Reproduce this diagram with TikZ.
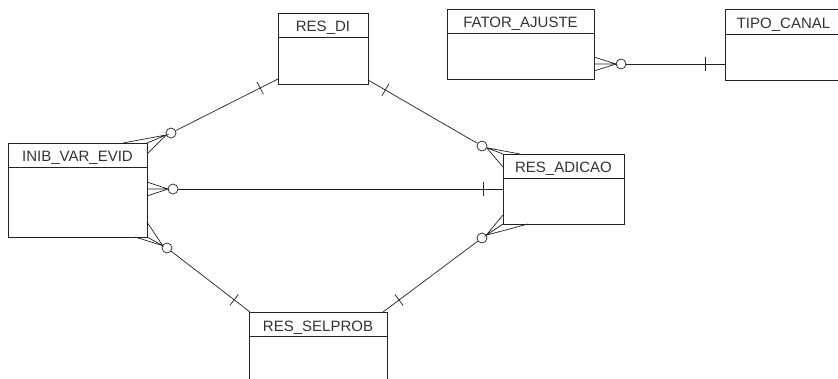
\documentclass[tikz,border=0pt]{standalone}
\usepackage{fontspec}
\setmainfont{Liberation Sans}
\usetikzlibrary{calc}
\definecolor{ln}{HTML}{222222}
\definecolor{tx}{HTML}{333333}
\tikzset{
  ent/.style={draw=ln, line width=0.9pt, rectangle, inner sep=0pt, outer sep=0pt, anchor=north west},
  ttl/.style={text=tx, font=\fontsize{15}{15}\selectfont, inner sep=0pt, anchor=base},
  rel/.style={draw=ln, line width=0.7pt},
  opt/.style={circle, draw=ln, line width=0.7pt, inner sep=0pt, minimum size=10pt, fill=white},
}
% name, x1, y1, x2, y2, header y, title
\newcommand\entity[7]{%
  \node[ent, minimum width={#4pt-#2pt}, minimum height={#5pt-#3pt}] (#1) at (#2,#3) {};
  \draw[ln, line width=0.9pt] ($(#1.north west)+(0,#6-#3)$) -- ($(#1.north east)+(0,#6-#3)$);
  \node[ttl] (#1-t) at ($(#1.north)+(0,#6-#3-5)$) {#7};
}
\newcommand\tickmark[2]{%
  \coordinate (tk) at ($(#1)!20pt!(#2)$);
  \draw[rel] ($(tk)!7pt!90:(#1)$) -- ($(tk)!7pt!-90:(#1)$);
}
\begin{document}
\begin{tikzpicture}[x=1pt, y=-1pt]
  \useasboundingbox (0,0) rectangle (838,379);
  \clip (0,0) rectangle (838,379);

  \entity{inib}{8}{143}{147}{237}{167}{INIB\_VAR\_EVID}
  \entity{resdi}{278}{13}{368}{84}{37}{RES\_DI}
  \entity{fator}{447}{9}{594}{79}{33}{FATOR\_AJUSTE}
  \entity{tipo}{725}{9}{842}{80}{34}{TIPO\_CANAL}
  \entity{adicao}{503}{154}{624}{224}{178}{RES\_ADICAO}
  \entity{selprob}{249}{312}{387}{400}{336}{RES\_SELPROB}

  % INIB -- RES_DI
  \node[opt] (c1) at (171,133) {};
  \coordinate (e1) at ($(resdi.south west)+(0,-5)$);
  \draw[rel] (c1) -- (e1);
  \tickmark{e1}{c1}
  \coordinate (p1) at ($(c1)!5pt!(inib.north east)$);
  \draw[rel] ($(inib.north east)+(-24,0)$) -- (p1) -- (inib.north east);
  \draw[rel] (p1) -- ($(inib.north east)+(0,11)$);

  % RES_DI -- RES_ADICAO
  \node[opt] (c2) at (482,146) {};
  \coordinate (e2) at ($(resdi.south east)+(0,-4)$);
  \draw[rel] (c2) -- (e2);
  \tickmark{e2}{c2}
  \coordinate (p2) at ($(c2)!5pt!(adicao.north west)$);
  \draw[rel] ($(adicao.north west)+(17,0)$) -- (p2) -- (adicao.north west);
  \draw[rel] (p2) -- ($(adicao.north west)+(0,13)$);

  % INIB -- RES_ADICAO
  \node[opt] (c3) at (173,189) {};
  \coordinate (e3) at (adicao.west |- c3);
  \draw[rel] (c3) -- (e3);
  \tickmark{e3}{c3}
  \coordinate (i3) at (inib.east |- c3);
  \coordinate (p3) at ($(c3)!5pt!(i3)$);
  \draw[rel] ($(i3)+(0,-7)$) -- (p3) -- (i3);
  \draw[rel] (p3) -- ($(i3)+(0,7)$);

  % INIB -- RES_SELPROB
  \node[opt] (c4) at (167,248) {};
  \coordinate (e4) at ($(selprob.north west)+(1,0)$);
  \draw[rel] (c4) -- (e4);
  \tickmark{e4}{c4}
  \coordinate (p4) at ($(c4)!5pt!(inib.south east)$);
  \draw[rel] ($(inib.south east)+(0,-15)$) -- (p4) -- (inib.south east);
  \draw[rel] (p4) -- ($(inib.south east)+(-12,0)$);

  % RES_ADICAO -- RES_SELPROB
  \node[opt] (c5) at (482,238) {};
  \coordinate (e5) at ($(selprob.north east)+(-4,0)$);
  \draw[rel] (c5) -- (e5);
  \tickmark{e5}{c5}
  \coordinate (p5) at ($(c5)!5pt!(adicao.south west)$);
  \draw[rel] ($(adicao.south west)+(0,-9)$) -- (p5) -- (adicao.south west);
  \draw[rel] (p5) -- ($(adicao.south west)+(25,0)$);

  % FATOR_AJUSTE -- TIPO_CANAL
  \node[opt] (c6) at (621,64) {};
  \coordinate (e6) at (tipo.west |- c6);
  \draw[rel] (c6) -- (e6);
  \tickmark{e6}{c6}
  \coordinate (i6) at (fator.east |- c6);
  \coordinate (p6) at ($(c6)!5pt!(i6)$);
  \draw[rel] ($(i6)+(0,-7)$) -- (p6) -- (i6);
  \draw[rel] (p6) -- ($(i6)+(0,7)$);
\end{tikzpicture}
\end{document}
